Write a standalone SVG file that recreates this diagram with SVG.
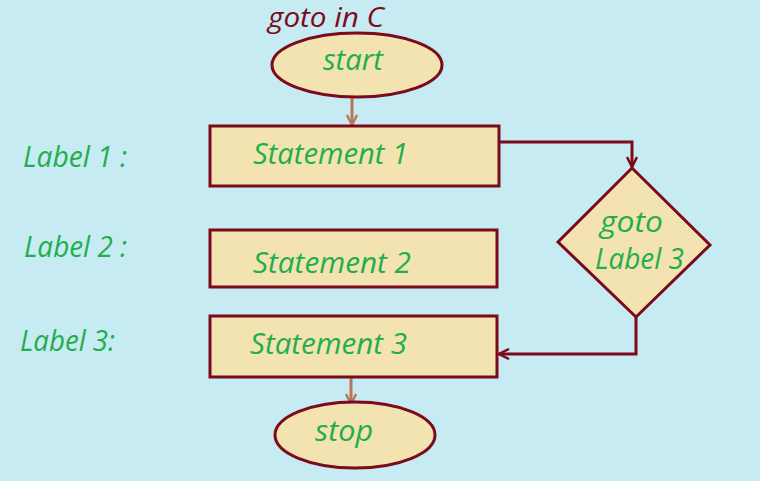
<svg xmlns="http://www.w3.org/2000/svg" width="760" height="481" viewBox="0 0 760 481">
<defs>
<style>
.bg{fill:#C7EBF3}
.shape{fill:#F2E3B1;stroke:#7A0A1C;stroke-width:3}
.t{font-family:"Open Sans","DejaVu Sans",sans-serif;font-style:italic;fill:#22AE4C;font-size:29px}
.title{font-family:"Open Sans","DejaVu Sans",sans-serif;font-style:italic;fill:#7A0A1C;font-size:28px}
.link{fill:none;stroke:#7A0A1C;stroke-width:3}
.flow{fill:none;stroke:#B5785A;stroke-width:3}
</style>
<marker id="ah" viewBox="0 0 12 12" refX="11" refY="6" markerWidth="12" markerHeight="12" markerUnits="userSpaceOnUse" orient="auto">
<path d="M1,1 L11,6 L1,11" fill="none" stroke="#7A0A1C" stroke-width="2.5"/>
</marker>
<marker id="ahb" viewBox="0 0 12 12" refX="11" refY="6" markerWidth="12" markerHeight="12" markerUnits="userSpaceOnUse" orient="auto">
<path d="M1,1 L11,6 L1,11" fill="none" stroke="#B5785A" stroke-width="2.5"/>
</marker>
</defs>
<rect class="bg" x="0" y="0" width="760" height="481"/>
<g id="labels">
<text class="t" x="23" y="167" textLength="104" lengthAdjust="spacingAndGlyphs">Label 1 :</text>
<text class="t" x="24" y="257" textLength="103" lengthAdjust="spacingAndGlyphs">Label 2 :</text>
<text class="t" x="20" y="351" textLength="95" lengthAdjust="spacingAndGlyphs">Label 3:</text>
</g>
<g id="connectors">
<path class="flow" d="M352,97 L352,125" marker-end="url(#ahb)"/>
<path class="link" d="M500,142 L632,142 L632,167" marker-end="url(#ah)"/>
<path class="link" d="M636,317 L636,354 L499,354" marker-end="url(#ah)"/>
<path class="flow" d="M351,378 L351,404" marker-end="url(#ahb)"/>
</g>
<g id="start">
<ellipse class="shape" cx="357" cy="65" rx="85" ry="32"/>
<text class="t" x="323" y="70" textLength="60" lengthAdjust="spacingAndGlyphs">start</text>
</g>
<g id="statement1">
<rect class="shape" x="210" y="126" width="289" height="60"/>
<text class="t" x="253" y="164" textLength="155" lengthAdjust="spacingAndGlyphs">Statement 1</text>
</g>
<g id="statement2">
<rect class="shape" x="210" y="230" width="287" height="57"/>
<text class="t" x="253" y="273" textLength="158" lengthAdjust="spacingAndGlyphs">Statement 2</text>
</g>
<g id="statement3">
<rect class="shape" x="210" y="316" width="287" height="61"/>
<text class="t" x="250" y="354" textLength="157" lengthAdjust="spacingAndGlyphs">Statement 3</text>
</g>
<g id="goto">
<polygon class="shape" points="632,168 710,245 636,317 558,242"/>
<text class="t" x="600" y="232" textLength="63" lengthAdjust="spacingAndGlyphs">goto</text>
<text class="t" x="595" y="269" textLength="89" lengthAdjust="spacingAndGlyphs">Label 3</text>
</g>
<g id="stop">
<ellipse class="shape" cx="355" cy="435" rx="80" ry="33"/>
<text class="t" x="315" y="441" textLength="58" lengthAdjust="spacingAndGlyphs">stop</text>
</g>
<text class="title" x="268" y="27" textLength="116" lengthAdjust="spacingAndGlyphs">goto in C</text>
</svg>
